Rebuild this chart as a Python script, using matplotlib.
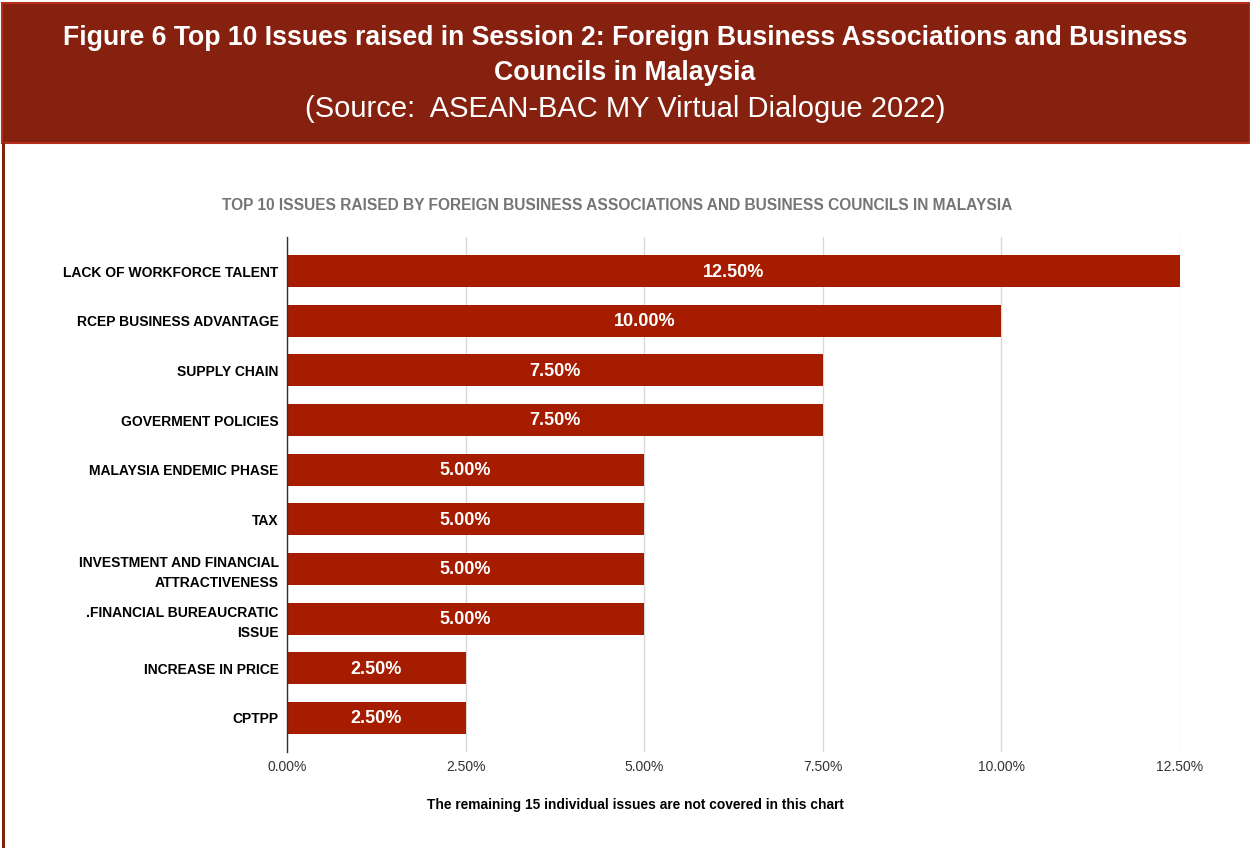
"""Top 10 issues raised in session 2, horizontal bar chart
"""
import matplotlib.pyplot as plt
import matplotlib.ticker as tck
from matplotlib.patches import Rectangle

plt.rcParams["font.family"] = ["Liberation Sans", "DejaVu Sans"]

issues = [
    "LACK OF WORKFORCE TALENT",
    "RCEP BUSINESS ADVANTAGE",
    "SUPPLY CHAIN",
    "GOVERMENT POLICIES",
    "MALAYSIA ENDEMIC PHASE",
    "TAX",
    "INVESTMENT AND FINANCIAL\nATTRACTIVENESS",
    ".FINANCIAL BUREAUCRATIC\nISSUE",
    "INCREASE IN PRICE",
    "CPTPP",
]
shares = [12.5, 10.0, 7.5, 7.5, 5.0, 5.0, 5.0, 5.0, 2.5, 2.5]
x_ticks = [0, 2.5, 5.0, 7.5, 10.0, 12.5]

bar_color = "#a61c00"
band_color = "#86200f"
edge_color = "#b5301a"

fig = plt.figure(figsize=(12.5, 8.65), dpi=100)

# header band and page border
fig.patches.append(Rectangle((0.0015, 1 - 143 / 865), 0.9985, 140 / 865,
                             transform=fig.transFigure, facecolor=band_color,
                             edgecolor=edge_color, linewidth=1.5, zorder=0))
fig.patches.append(Rectangle((0.0016, 1 - 848 / 865), 0.0024, 705 / 865,
                             transform=fig.transFigure, facecolor=band_color,
                             edgecolor="none", zorder=0))

fig.text(0.5, 1 - 38 / 865,
         "Figure 6 Top 10 Issues raised in Session 2: Foreign Business Associations and Business",
         ha="center", va="center", color="white", fontsize=19.2, fontweight="bold")
fig.text(0.5, 1 - 73 / 865, "Councils in Malaysia",
         ha="center", va="center", color="white", fontsize=19.2, fontweight="bold")
fig.text(0.5, 1 - 109 / 865, "(Source:  ASEAN-BAC MY Virtual Dialogue 2022)",
         ha="center", va="center", color="white", fontsize=21)

fig.text(617 / 1250, 1 - 205 / 865,
         "TOP 10 ISSUES RAISED BY FOREIGN BUSINESS ASSOCIATIONS AND BUSINESS COUNCILS IN MALAYSIA",
         ha="center", va="center", color="#757575", fontsize=11.2, fontweight="bold")

ax = fig.add_axes([287 / 1250, 1 - 752 / 865, 893 / 1250, 515 / 865])
ys = list(range(len(issues)))
ax.barh(ys, shares, height=0.64, color=bar_color, zorder=2)
for y, val in zip(ys, shares):
    ax.text(val / 2, y + 0.02, f"{val:.2f}%", ha="center", va="center",
            color="white", fontsize=13, fontweight="bold", zorder=3)

ax.set_xlim(0, 12.5)
ax.set_ylim(len(issues) - 1 + 0.685, -0.685)
ax.set_yticks(ys)
ax.set_yticklabels(issues, fontsize=10, fontweight="bold", linespacing=1.5)
ax.set_xticks(x_ticks)
ax.xaxis.set_major_formatter(tck.FuncFormatter(lambda v, _: f"{v:.2f}%"))
ax.tick_params(axis="x", labelsize=10, labelcolor="#333333", length=0, pad=6)
ax.tick_params(axis="y", length=0, pad=6)
ax.grid(axis="x", color="#d9d9d9", linewidth=1, zorder=0)
for side in ["top", "right", "bottom"]:
    ax.spines[side].set_visible(False)
ax.spines["left"].set_color("#333333")
ax.spines["left"].set_linewidth(1)

fig.text(635 / 1250, 1 - 805 / 865,
         "The remaining 15 individual issues are not covered in this chart",
         ha="center", va="center", color="black", fontsize=9.9, fontweight="bold")

fig.savefig("out.png", dpi=100)
